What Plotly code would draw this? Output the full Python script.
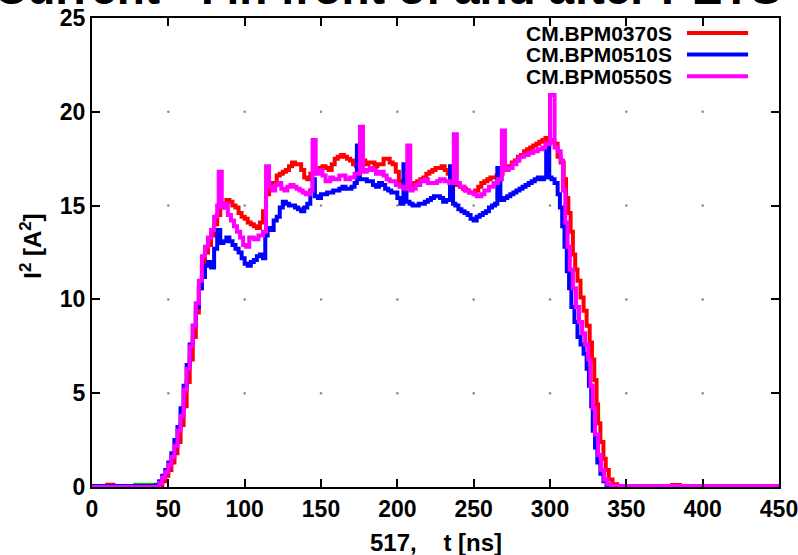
import plotly.graph_objects as go

# ---------------- data ----------------
t_red = [0, 10, 14, 20, 44, 46, 48, 50, 52, 54, 56, 58, 60, 62, 64, 66, 68, 70, 72, 74, 76, 78, 80, 82, 84, 86, 88, 90,
         92, 94, 96, 98, 100, 102, 104, 106, 108, 110, 112, 114, 116, 119, 121, 123, 125, 127, 129, 131, 133, 135,
         137, 139, 141, 143, 145, 147, 149, 151, 153, 155, 157, 159, 161, 163, 165, 167, 169, 171, 173, 175, 177,
         179, 181, 183, 185, 187, 189, 191, 193, 195, 197, 199, 201, 203, 205, 207, 209, 211, 213, 215, 217, 219,
         221, 223, 225, 227, 229, 231, 233, 235, 237, 239, 241, 243, 245, 247, 249, 251, 253, 255, 257, 259, 261,
         263, 265, 267, 269, 271, 273, 275, 277, 279, 281, 283, 285, 287, 289, 291, 293, 295, 297, 299, 301, 303,
         305, 307, 309, 310.5, 312, 313.5, 315, 316.5, 318, 320, 322, 324, 326, 327.5, 329, 330.5, 331.5, 333, 335,
         336.5, 338.5, 341, 344, 380, 385, 450]
v_red = [0.05, 0.12, 0.0, 0.0, 0.1, 0.3, 0.6, 0.9, 1.3, 1.8, 2.4, 3.3, 4.3, 5.6, 6.8, 8.0, 9.3, 10.6, 11.8, 12.5, 12.9,
         13.4, 14.0, 14.5, 14.9, 15.1, 15.3, 15.2, 15.0, 14.9, 14.6, 14.4, 14.3, 14.1, 14.0, 13.9, 13.8, 14.1, 14.7,
         15.6, 16.2, 16.1, 16.6, 16.7, 16.8, 16.9, 17.1, 17.3, 17.2, 17.2, 16.9, 16.5, 16.4, 16.7, 16.8, 16.9, 17.0,
         17.1, 17.0, 16.9, 17.2, 17.5, 17.6, 17.7, 17.6, 17.5, 17.4, 17.2, 17.1, 17.3, 17.4, 17.2, 17.3, 17.3, 17.1,
         17.2, 17.2, 17.5, 17.5, 17.3, 17.2, 16.8, 16.3, 16.1, 16.0, 16.0, 16.1, 16.2, 16.3, 16.4, 16.5, 16.7, 16.8,
         16.9, 17.0, 17.0, 17.1, 16.9, 16.7, 16.4, 16.2, 16.1, 16.0, 15.9, 15.8, 15.7, 15.7, 15.8, 16.0, 16.2, 16.3,
         16.4, 16.5, 16.5, 16.6, 16.7, 16.9, 17.0, 17.1, 17.3, 17.4, 17.6, 17.7, 17.9, 18.0, 18.1, 18.2, 18.3, 18.4,
         18.5, 18.6, 18.5, 18.4, 18.3, 17.6, 17.3, 16.4, 15.4, 14.6, 13.6, 12.4, 11.6, 11.0, 10.1, 9.4, 8.6, 7.7,
         6.8, 5.7, 4.4, 3.4, 2.4, 1.5, 0.9, 0.4, 0.15, 0.05, 0.1, 0.05, 0.05]

t_blue = [0, 42, 44, 46, 48, 50, 52, 54, 56, 58, 60, 62, 64, 66, 68, 70, 72, 74, 76, 78, 80, 82, 84, 86, 88, 90, 92, 94,
          96, 98, 100, 102, 104, 106, 108, 110, 112, 113.5, 115, 117, 119, 121, 123, 125, 127, 129, 131, 133, 135, 137,
          139, 141, 143, 144.5, 146, 148, 150, 152, 154, 156, 158, 160, 162, 164, 166, 168, 170, 172, 173.5, 175.5,
          178, 180, 182, 184, 186, 188, 190, 192, 194, 196, 198, 200, 202, 204, 206, 208, 210, 212, 214, 216, 218,
          220, 222, 224, 226, 228, 230, 232, 234.5, 236.5, 238, 240, 242, 244, 246, 248, 250, 252, 254, 256, 258, 260,
          262, 264, 265.5, 267.5, 270, 272, 274, 276, 278, 280, 282, 284, 286, 288, 290, 292, 294, 296, 297.5, 299.5,
          301, 303, 305, 306.5, 308, 309.5, 311, 312.5, 314, 316, 318, 320, 322, 324, 325.5, 327, 328, 329.5, 331,
          333, 335, 337, 340, 450]
v_blue = [0.05, 0.1, 0.3, 0.6, 0.9, 1.3, 1.8, 2.5, 3.2, 4.2, 5.4, 6.5, 7.6, 8.6, 9.6, 10.6, 11.2, 11.8, 12.0, 11.7,
          12.7, 13.7, 13.0, 13.1, 13.3, 13.1, 12.9, 12.7, 12.5, 12.2, 11.9, 11.8, 12.0, 12.1, 12.3, 12.4, 12.2, 13.4,
          13.8, 13.7, 14.2, 14.4, 14.9, 15.2, 15.1, 15.0, 15.0, 14.9, 14.8, 14.7, 14.9, 15.1, 15.8, 16.4, 15.5, 15.4,
          15.6, 15.6, 15.7, 15.7, 15.8, 15.8, 15.9, 16.0, 15.9, 15.9, 16.0, 16.2, 18.2, 16.4, 16.4, 16.3, 16.3, 16.1,
          16.0, 16.2, 16.1, 15.9, 15.8, 15.7, 15.7, 15.4, 15.1, 17.2, 15.2, 15.1, 15.0, 15.0, 15.1, 15.1, 15.2, 15.3,
          15.4, 15.5, 15.5, 15.4, 15.2, 15.3, 17.1, 15.1, 15.0, 14.8, 14.7, 14.6, 14.5, 14.3, 14.2, 14.4, 14.5, 14.6,
          14.7, 14.9, 15.0, 15.1, 17.0, 15.3, 15.4, 15.5, 15.6, 15.7, 15.8, 15.9, 16.0, 16.1, 16.2, 16.3, 16.4, 16.5,
          16.4, 16.5, 18.1, 16.5, 16.4, 16.2, 15.6, 14.9, 13.9, 12.8, 11.5, 10.6, 9.6, 8.8, 8.0, 7.6, 7.1, 6.3, 5.4,
          4.3, 3.0, 2.1, 1.3, 0.7, 0.3, 0.1, 0.05, 0.05]

t_mag = [0, 30, 44, 46, 48, 50, 52, 54, 56, 58, 60, 62, 64, 66, 68, 70, 72, 74, 76, 78, 80, 82, 83, 85, 87, 89, 91, 93,
         95, 97, 99, 101, 103, 106, 109, 112, 114, 116, 118, 120, 122, 124, 126, 128, 130, 132, 134, 136, 138, 140,
         143, 144.5, 146.5, 149, 151, 153, 156, 158, 160, 162, 164, 166, 169, 172, 175.5, 177.5, 180, 182, 184, 186,
         188.5, 191, 193, 195, 197, 199, 201.5, 204, 206.5, 208.5, 210, 212, 215, 218, 220, 223, 226, 228, 231, 234,
         237, 239, 241, 244, 247, 250, 252, 255, 257, 260, 263, 266, 268.5, 270.5, 273, 275.5, 278, 280, 283, 286,
         289, 292, 295, 297, 300, 303, 305, 307, 308.5, 310, 311.5, 313, 315, 317, 319, 321, 323, 325, 326.5, 328,
         329.5, 331.5, 333.5, 335.5, 337.5, 340, 450]
v_mag = [0.0, 0.0, 0.2, 0.5, 0.8, 1.2, 1.6, 2.2, 3.0, 3.8, 5.2, 6.3, 7.5, 8.6, 9.8, 11.0, 12.3, 12.8, 13.3, 13.7, 14.4,
         15.0, 16.8, 14.9, 15.1, 14.5, 14.2, 13.9, 13.6, 13.3, 12.9, 12.8, 13.3, 13.2, 13.4, 13.6, 17.1, 16.0, 15.8,
         16.1, 16.2, 15.9, 15.8, 16.0, 16.1, 16.0, 15.9, 15.8, 15.7, 15.6, 15.8, 18.5, 16.7, 16.9, 16.6, 16.3, 16.5,
         16.4, 16.4, 16.6, 16.6, 16.4, 16.5, 16.7, 19.2, 16.8, 16.9, 17.0, 16.9, 16.7, 16.8, 16.6, 16.4, 16.3, 16.3,
         16.1, 16.0, 15.9, 18.2, 15.8, 15.9, 16.1, 16.3, 16.4, 16.2, 16.2, 16.3, 16.4, 16.3, 16.2, 18.8, 16.2, 16.0,
         15.8, 15.7, 15.6, 15.5, 15.6, 15.8, 16.0, 16.2, 16.4, 19.0, 16.9, 17.0, 17.2, 17.4, 17.6, 17.7, 17.8, 17.9,
         18.0, 18.1, 18.3, 20.9, 18.1, 17.9, 17.4, 15.8, 14.1, 12.8, 11.6, 10.6, 9.6, 8.8, 8.2, 7.6, 6.8, 5.4, 4.2,
         2.8, 1.7, 0.9, 0.4, 0.15, 0.05, 0.05]

t_green = [27, 45]
v_green = [0.12, 0.12]

series_names = ["CM.BPM0370S", "CM.BPM0510S", "CM.BPM0550S"]
series_colors = ["#ff0000", "#0000ff", "#ff00ff"]

x_ticks = [0, 50, 100, 150, 200, 250, 300, 350, 400, 450]
y_ticks = [0, 5, 10, 15, 20, 25]

FONT = "Liberation Sans, Arial, sans-serif"
LW = 4

fig = go.Figure()

# grid intersection dots
gx = [x for x in x_ticks[1:-1] for y in y_ticks[1:-1]]
gy = [y for x in x_ticks[1:-1] for y in y_ticks[1:-1]]
fig.add_trace(go.Scatter(x=gx, y=gy, mode="markers",
                         marker=dict(size=2.5, color="#888888"), showlegend=False, hoverinfo="skip"))

fig.add_trace(go.Scatter(x=t_green, y=v_green, mode="lines", line=dict(color="#00c800", width=LW, shape="hv"),
                         showlegend=False))
for tt, vv, nm, col in [(t_red, v_red, series_names[0], series_colors[0]),
                        (t_blue, v_blue, series_names[1], series_colors[1]),
                        (t_mag, v_mag, series_names[2], series_colors[2])]:
    fig.add_trace(go.Scatter(x=tt, y=vv, mode="lines", name=nm,
                             line=dict(color=col, width=LW, shape="hv"), showlegend=False))

# custom legend (text left of sample line, like gnuplot)
leg_y = [0.968, 0.922, 0.876]
for nm, col, yy in zip(series_names, series_colors, leg_y):
    fig.add_annotation(x=0.846, y=yy, xref="paper", yref="paper", text=nm, showarrow=False,
                       xanchor="right", yanchor="middle", borderpad=0,
                       font=dict(family=FONT, size=21, color="black", weight="bold"))
    fig.add_shape(type="line", xref="paper", yref="paper", x0=0.866, x1=0.955, y0=yy, y1=yy,
                  line=dict(color=col, width=4))

# axis titles
fig.add_annotation(x=0.5, y=-0.119, xref="paper", yref="paper",
                   text="517,\u00a0\u00a0\u00a0\u00a0t [ns]", showarrow=False,
                   xanchor="center", yanchor="middle",
                   font=dict(family=FONT, size=24, color="black", weight="bold"))
fig.add_annotation(x=-0.089, y=0.514, xref="paper", yref="paper",
                   text="I<sup>2</sup> [A<sup>2</sup>]", showarrow=False, textangle=-90,
                   xanchor="center", yanchor="middle",
                   font=dict(family=FONT, size=24, color="black", weight="bold"))

# cut-off title at top (only its lower part is inside the page)
fig.add_annotation(x=0.43, y=1.0, xref="paper", yref="paper",
                   text="Current - I in front of and after PETS", showarrow=False,
                   xanchor="center", yanchor="bottom", yshift=3, borderpad=0,
                   font=dict(family=FONT, size=46, color="black", weight="bold"))

axis_common = dict(showline=True, linecolor="black", linewidth=2, mirror="ticks",
                   ticks="inside", ticklen=8, tickwidth=1.5, tickcolor="black",
                   showgrid=False, zeroline=False, ticklabeloverflow="allow", automargin=False,
                   tickfont=dict(family=FONT, size=23, color="black", weight="bold"))

fig.update_xaxes(range=[-0.001, 450.001], tickvals=x_ticks, **axis_common)
fig.update_yaxes(range=[-0.0001, 25.0001], tickvals=y_ticks, **axis_common)

fig.update_layout(width=798, height=555, margin=dict(l=92, r=19, t=18, b=68),
                  plot_bgcolor="white", paper_bgcolor="white", showlegend=False)

fig.write_html("out.html")
